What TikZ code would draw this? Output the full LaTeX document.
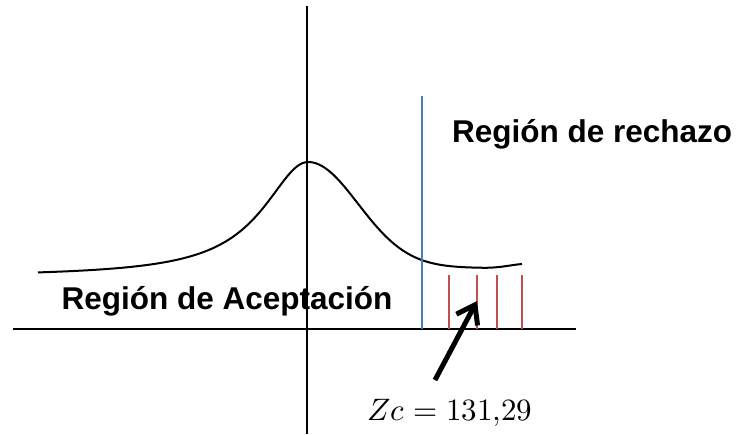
\documentclass[tikz,border=0pt]{standalone}
\usepackage{fontspec}
\setmainfont{Liberation Sans}
\usepackage{unicode-math}
\usetikzlibrary{arrows.meta}
\definecolor{axisblue}{RGB}{74,126,187}
\definecolor{redline}{RGB}{192,80,77}
\tikzset{
  axisline/.style={line width=2pt, black},
  curveline/.style={line width=2pt, black, line join=round},
  critline/.style={line width=1.6pt, axisblue},
  rejline/.style={line width=1.5pt, redline},
  biglabel/.style={font=\fontsize{31.5}{36}\selectfont\bfseries, inner sep=0pt},
  pointer/.style={line width=5pt, -{Straight Barb[length=17pt,width=24pt,line width=5pt]}}
}
\begin{document}
\begin{tikzpicture}[x=1pt,y=-1pt]
\useasboundingbox (0,0) rectangle (739,434);
% axes
\coordinate (xl) at (13,329);
\coordinate (xr) at (576,329);
\coordinate (yt) at (307,6);
\coordinate (yb) at (307,434);
\draw[axisline] (xl) -- (xr);
\draw[axisline] (yt) -- (yb);
% curve
\draw[curveline]
  plot[domain=38:308, samples=90] (\x, {277 - 115/(1+((\x-308)/55)^2)})
  -- plot[domain=308:483, samples=70] (\x, {268 - 106*exp(-0.5*((\x-308)/50)^2)})
  .. controls (500,268) and (510,265) .. (522,264);
% critical line
\coordinate (bt) at (422,96);
\coordinate (bb) at (422,329);
\draw[critline] (bt) -- (bb);
% rejection lines
\foreach \xx/\nm in {449/ra,477/rb,497/rc,522/rd}{
  \coordinate (\nm t) at (\xx,275);
  \coordinate (\nm b) at (\xx,329);
  \draw[rejline] (\nm t) -- (\nm b);
}
% labels
\node[biglabel, anchor=west] (rech) at (452,134) {Región de rechazo};
\node[biglabel] (acep) at (227,301) {Región de Aceptación};
\node[inner sep=0pt, anchor=west, font=\fontsize{31}{36}\selectfont] (zc) at (367,413) {$Zc = 131{,}29$};
% arrow
\coordinate (atail) at (435,380);
\coordinate (atip) at (477,301);
\draw[pointer] (atail) -- (atip);
\end{tikzpicture}
\end{document}
